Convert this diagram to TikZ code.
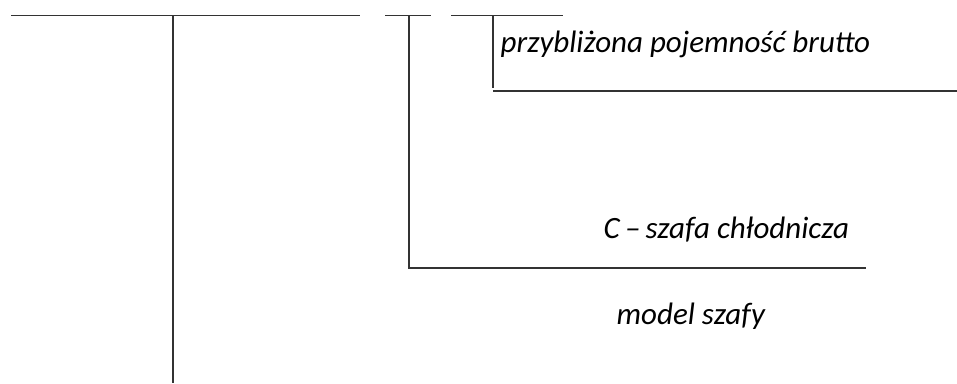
\documentclass[tikz,border=0pt]{standalone}
\usepackage{fontspec}
\setmainfont{Carlito}
\usepackage{tikz}
\tikzset{lbl/.style={anchor=base west,inner sep=0pt,font=\fontsize{31}{36}\selectfont\itshape}}

\begin{document}
\begin{tikzpicture}[x=1pt,y=-1pt,line width=1.4pt,draw=black!80]
\useasboundingbox (0,0) rectangle (957,383);
\coordinate (m) at (173,15.5);
\coordinate (c) at (409,15.5);
\coordinate (p) at (493,15.5);
\draw (11,15.5) -- (360,15.5);
\draw (385,15.5) -- (431,15.5);
\draw (451,15.5) -- (563,15.5);
\draw (m) -- (173,383);
\draw (c) -- (409,268) -- (866,268);
\draw (p) -- (493,88) (493,91) -- (957,91);
\node [lbl] (pojemnosc) at (500,52) {przybliżona pojemność brutto};
\node [lbl] (typ) at (603,238) {C\,–\,szafa chłodnicza};
\node [lbl] (model) at (616,324) {model szafy};
\end{tikzpicture}
\end{document}
